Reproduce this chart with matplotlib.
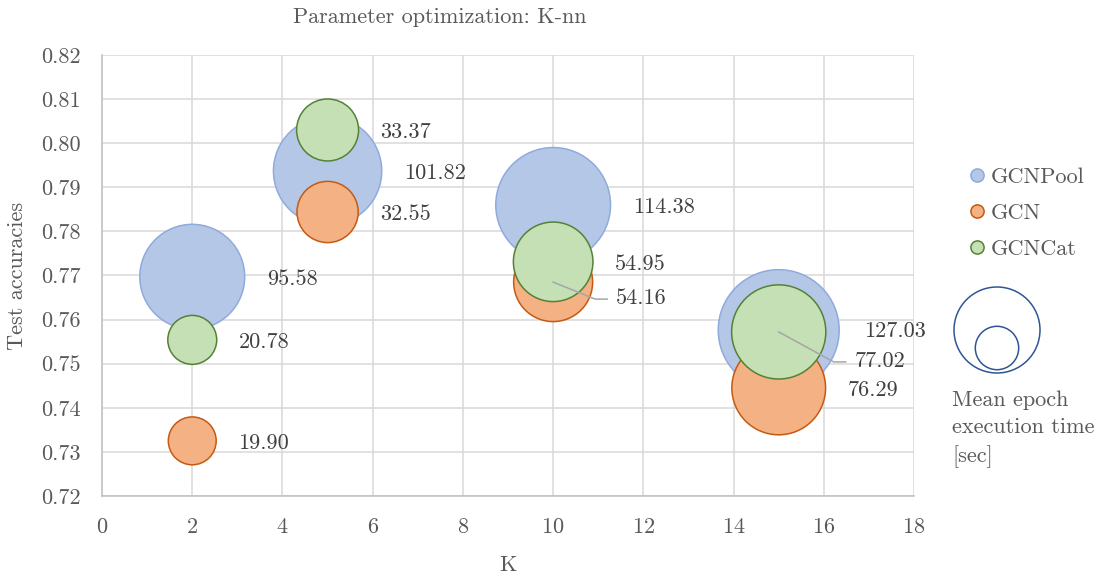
import matplotlib
matplotlib.use("Agg")
import matplotlib.pyplot as plt
from matplotlib.lines import Line2D
from matplotlib.patches import Circle
from matplotlib.transforms import IdentityTransform
import numpy as np

plt.rcParams['font.family'] = ['cmr10', 'DejaVu Serif']
plt.rcParams['axes.formatter.use_mathtext'] = True
plt.rcParams['mathtext.fontset'] = 'cm'

# data
k_values = [2, 5, 10, 15]
series_names = ["GCNPool", "GCN", "GCNCat"]
acc_pool = [0.7697, 0.7937, 0.7860, 0.7576]
acc_gcn = [0.7325, 0.7844, 0.7685, 0.7445]
acc_cat = [0.7554, 0.8030, 0.7731, 0.7572]
time_pool = [95.58, 101.82, 114.38, 127.03]
time_gcn = [19.90, 32.55, 54.16, 76.29]
time_cat = [20.78, 33.37, 54.95, 77.02]

fills = ["#B4C7E7", "#F4B183", "#C5E0B4"]
edges = ["#8FAADC", "#C55A11", "#548235"]
txt_col = "#595959"
lbl_col = "#404040"
fs = 16

# label nudges (px) for labels Excel moved out of the way, keyed (series, index)
nudge = {(1, 2): (63, 16), (2, 3): (76, 29), (0, 3): (85, 1)}
leaders = [(1, 2), (2, 3)]

fig = plt.figure(figsize=(11.03, 5.79), dpi=100)
ax = fig.add_axes([0.0925, 0.1434, 0.8287 - 0.0925, 0.905 - 0.1434])
ax.set_xlim(0, 18)
ax.set_ylim(0.72, 0.82)

s_per_unit = 59.7  # bubble area per second
accs = [acc_pool, acc_gcn, acc_cat]
times = [time_pool, time_gcn, time_cat]
for i in range(3):
    ax.scatter(k_values, accs[i], s=np.array(times[i]) * s_per_unit,
               facecolor=fills[i], edgecolor=edges[i], linewidth=1.1,
               zorder=3 + i, clip_on=False)

for i in range(3):
    for j, k in enumerate(k_values):
        r_px = np.sqrt(times[i][j] * s_per_unit) / 2 / 0.72
        dx, dy = nudge.get((i, j), (r_px + 22, 2))
        ax.annotate("%.2f" % times[i][j], (k, accs[i][j]),
                    xytext=(dx * 0.72, -dy * 0.72), textcoords='offset points',
                    ha='left', va='center', fontsize=fs, color=lbl_col, zorder=10)
        if (i, j) in leaders:
            # leader line drawn in pixel space: bubble centre -> elbow -> label
            px, py = ax.transData.transform((k, accs[i][j]))
            xs = [px, px + dx - 21, px + dx - 9]
            ys = [py, py - dy - 1, py - dy - 1]
            ax.add_line(Line2D(xs, ys, transform=IdentityTransform(),
                               color="#A6A6A6", lw=1.1, zorder=9))

ax.set_xticks(np.arange(0, 19, 2))
ax.set_yticks(np.arange(0.72, 0.8201, 0.01))
ax.set_yticklabels(["%.2f" % v for v in np.arange(0.72, 0.8201, 0.01)])
ax.grid(True, color="#D9D9D9", linewidth=1.1)
ax.set_axisbelow(True)
for sp in ['top', 'right']:
    ax.spines[sp].set_visible(False)
for sp in ['left', 'bottom']:
    ax.spines[sp].set_color("#BFBFBF")
    ax.spines[sp].set_linewidth(1.1)
ax.tick_params(length=0, pad=15.5, labelsize=fs, colors=txt_col)
ax.set_xlabel("K", fontsize=fs, color=txt_col, labelpad=13)
ax.set_ylabel("Test accuracies", fontsize=fs, color=txt_col, labelpad=10)
fig.text(0.399, 1 - 17 / 579, "Parameter optimization: K-nn", ha='center', va='center',
         fontsize=fs, color=txt_col)

handles = [Line2D([], [], linestyle='none', marker='o', markersize=9.5,
                  markerfacecolor=fills[i], markeredgecolor=edges[i], markeredgewidth=1.1)
           for i in range(3)]
fig.legend(handles, series_names, loc='upper left', bbox_to_anchor=(0.880, 1 - 167 / 579),
           frameon=False, fontsize=fs, labelcolor=txt_col, handlelength=0.6,
           handletextpad=0.3, labelspacing=0.75, borderpad=0, borderaxespad=0)

# bubble size key
fig.add_artist(Circle((9.97, 2.49), 0.43, transform=fig.dpi_scale_trans,
                      fill=False, edgecolor="#2F5597", linewidth=1.1))
fig.add_artist(Circle((9.97, 2.31), 0.217, transform=fig.dpi_scale_trans,
                      fill=False, edgecolor="#2F5597", linewidth=1.1))
fig.text(952 / 1103, 1 - 390 / 579, "Mean epoch\nexecution time\n[sec]", ha='left', va='top',
         fontsize=fs, color=txt_col, linespacing=1.5)

fig.savefig("out.png", dpi=100)
